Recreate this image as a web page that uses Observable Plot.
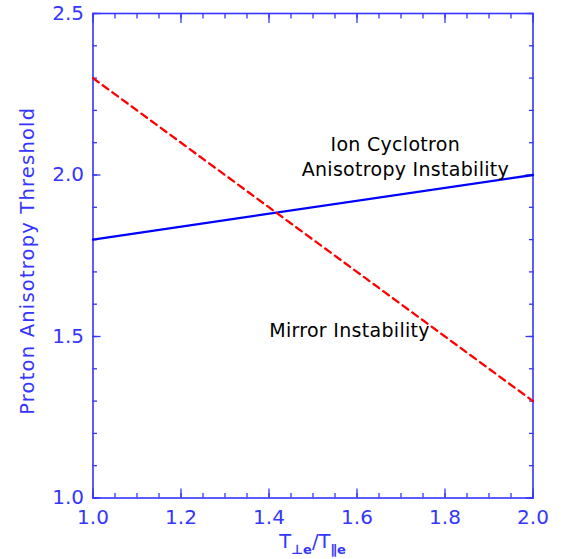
<!DOCTYPE html>
<html>
<head>
<meta charset="utf-8">
<script src="https://cdn.jsdelivr.net/npm/d3@7"></script>
<script src="https://cdn.jsdelivr.net/npm/@observablehq/plot@0.6"></script>
<style>
  body { margin: 0; background: #fff; }
  svg { font-family: "DejaVu Sans", sans-serif; }
</style>
</head>
<body>
<div id="chart"></div>
<script>
// Electron temperature anisotropy T⊥e/T∥e
const ratio = [1.0, 2.0];
// Threshold for the ion cyclotron anisotropy instability
const ionCyclotron = [1.8, 2.0];
// Threshold for the mirror instability
const mirror = [2.3, 1.3];

const xMajor = [1.0, 1.2, 1.4, 1.6, 1.8, 2.0];
const xMinor = d3.range(1.0, 2.0001, 0.05);
const yMajor = [1.0, 1.5, 2.0, 2.5];
const yMinor = d3.range(1.0, 2.5001, 0.1);

const labels = [
  {x: 1.687, y: 2.075, text: "Ion Cyclotron"},
  {x: 1.71, y: 1.998, text: "Anisotropy Instability"},
  {x: 1.583, y: 1.497, text: "Mirror Instability"}
];

const yTitle = "Proton Anisotropy Threshold";
const axisColor = "#3535ff";

const ic = ratio.map((r, i) => ({x: r, y: ionCyclotron[i]}));
const mi = ratio.map((r, i) => ({x: r, y: mirror[i]}));

const plot = Plot.plot({
  width: 567,
  height: 559,
  marginLeft: 92.5,
  marginRight: 34.5,
  marginTop: 13,
  marginBottom: 61.5,
  style: {fontFamily: "DejaVu Sans, sans-serif", background: "#fff"},
  x: {domain: [1.0, 2.0]},
  y: {domain: [1.0, 2.5]},
  marks: [
    // tick labels
    Plot.axisX(xMajor, {anchor: "bottom", tickSize: 0, tickPadding: 12, tickFormat: d3.format(".1f"), fontSize: 20, color: axisColor, label: null}),
    Plot.axisY(yMajor, {anchor: "left", tickSize: 0, tickPadding: 9, tickFormat: d3.format(".1f"), fontSize: 20, color: axisColor, label: null}),
    // inward ticks on all four sides
    Plot.axisX(xMinor, {anchor: "bottom", tickSize: -4.5, text: null, stroke: axisColor, strokeWidth: 1.3, label: null}),
    Plot.axisX(xMinor, {anchor: "top", tickSize: -4.5, text: null, stroke: axisColor, strokeWidth: 1.3, label: null}),
    Plot.axisX(xMajor, {anchor: "bottom", tickSize: -9, text: null, stroke: axisColor, strokeWidth: 1.3, label: null}),
    Plot.axisX(xMajor, {anchor: "top", tickSize: -9, text: null, stroke: axisColor, strokeWidth: 1.3, label: null}),
    Plot.axisY(yMinor, {anchor: "left", tickSize: -4.5, text: null, stroke: axisColor, strokeWidth: 1.3, label: null}),
    Plot.axisY(yMinor, {anchor: "right", tickSize: -4.5, text: null, stroke: axisColor, strokeWidth: 1.3, label: null}),
    Plot.axisY(yMajor, {anchor: "left", tickSize: -8, text: null, stroke: axisColor, strokeWidth: 1.3, label: null}),
    Plot.axisY(yMajor, {anchor: "right", tickSize: -8, text: null, stroke: axisColor, strokeWidth: 1.3, label: null}),
    Plot.frame({stroke: axisColor, strokeWidth: 1.6}),
    // threshold lines
    Plot.line(ic, {x: "x", y: "y", stroke: "#0000ff", strokeWidth: 2.3}),
    Plot.line(mi, {x: "x", y: "y", stroke: "#ff0000", strokeWidth: 2.3, strokeDasharray: "7,5"}),
    // annotations
    Plot.text(labels, {x: "x", y: "y", text: "text", fontSize: 19, fill: "#000", textAnchor: "middle", lineAnchor: "bottom"}),
    // y axis title
    Plot.text([yTitle], {frameAnchor: "left", text: d => d, rotate: -90, textAnchor: "middle", lineAnchor: "bottom", dx: -59.5, dy: 5, fontSize: 19.5, fill: axisColor})
  ]
});

document.getElementById("chart").append(plot);

const svg = d3.select(plot);

// letter spacing for the annotation text and the y title
svg.selectAll("text").filter(function () {
  return labels.some(l => l.text === this.textContent);
}).attr("letter-spacing", 0.3);
svg.selectAll("text").filter(function () {
  return this.textContent === yTitle;
}).attr("letter-spacing", 1.2);

// x axis title with subscripts: T⊥e / T∥e
const sx = plot.scale("x");
const xt = svg.append("text")
  .attr("x", sx.apply(1.5))
  .attr("y", 548)
  .attr("text-anchor", "middle")
  .attr("fill", axisColor)
  .attr("font-size", 19.5);
xt.append("tspan").text("T");
xt.append("tspan").attr("font-size", 13).attr("font-weight", "bold").attr("dy", 6).text("⊥e");
xt.append("tspan").attr("dy", -6).text("/T");
xt.append("tspan").attr("font-size", 13).attr("font-weight", "bold").attr("dy", 6).text("∥e");
</script>
</body>
</html>
